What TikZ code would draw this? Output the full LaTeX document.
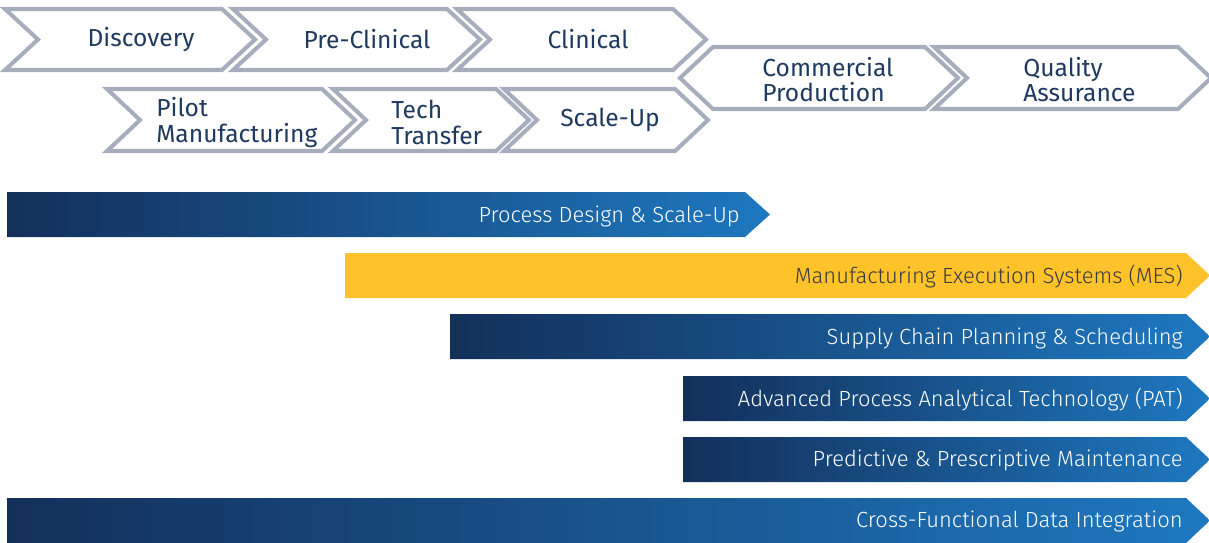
\documentclass[tikz,border=0pt]{standalone}
\usepackage{fontspec}
\setmainfont{Fira Sans}
\newfontfamily\barfont{Fira Sans Light}
\definecolor{phasegray}{HTML}{A6ADBD}
\definecolor{phasenavy}{HTML}{1E3A5F}
\definecolor{bardark}{HTML}{13305A}
\definecolor{barlight}{HTML}{1E78C0}
\definecolor{mesyellow}{HTML}{FEC22B}
\definecolor{mestext}{HTML}{3A3A3A}

\begin{document}
\begin{tikzpicture}[x=0.02cm,y=-0.02cm,
  phase/.style={draw=phasegray, line width=2.3pt, miter limit=20, fill=white},
  phasetext/.style={text=phasenavy, font=\fontsize{14}{14.4}\selectfont, align=left, inner sep=0pt},
  bartext/.style={text=white, font=\barfont\fontsize{12.5}{13}\selectfont, anchor=east, inner sep=0pt}]
\useasboundingbox (0,0) rectangle (1209,542);

% phases, first row
\draw[phase] (5,9) -- (222,9) -- ++(33,30.5) -- (222,70) -- (5,70) -- ++(33,-30.5) -- cycle;
\draw[phase] (233,9) -- (447,9) -- ++(33,30.5) -- (447,70) -- (233,70) -- ++(33,-30.5) -- cycle;
\draw[phase] (457,9) -- (673,9) -- ++(33,30.5) -- (673,70) -- (457,70) -- ++(33,-30.5) -- cycle;
% phases, second row
\draw[phase] (107,89) -- (322,89) -- ++(33,31) -- (322,151) -- (107,151) -- ++(33,-31) -- cycle;
\draw[phase] (333,89) -- (496,89) -- ++(33,31) -- (496,151) -- (333,151) -- ++(33,-31) -- cycle;
\draw[phase] (504,89) -- (675,89) -- ++(33,31) -- (675,151) -- (504,151) -- ++(33,-31) -- cycle;
% commercial and quality
\draw[phase] (713,47) -- (925,47) -- ++(33,31) -- (925,109) -- (713,109) -- ++(-33,-31) -- cycle;
\draw[phase] (934,47) -- (1178,47) -- ++(33,31) -- (1178,109) -- (934,109) -- ++(33,-31) -- cycle;

\node[phasetext] (discovery) at (141,39.5) {Discovery};
\node[phasetext] (preclinical) at (367,39.5) {Pre-Clinical};
\node[phasetext] (clinical) at (588,39.5) {Clinical};
\node[phasetext, anchor=west] (pilot) at (156,122.5) {Pilot\\Manufacturing};
\node[phasetext, anchor=west] (tech) at (391,122.5) {Tech\\Transfer};
\node[phasetext] (scaleup) at (610,120) {Scale-Up};
\node[phasetext, anchor=west] (commercial) at (762,79.5) {Commercial\\Production};
\node[phasetext, anchor=west] (quality) at (1023,79.5) {Quality\\Assurance};

% capability bars
\shade[left color=bardark, right color=barlight] (7,192) -- (745,192) -- ++(25,22.5) -- (745,237) -- (7,237) -- cycle;
\fill[mesyellow] (345,253) -- (1186,253) -- ++(24,22.5) -- (1186,298) -- (345,298) -- cycle;
\shade[left color=bardark, right color=barlight] (450,314) -- (1186,314) -- ++(24,22.5) -- (1186,359) -- (450,359) -- cycle;
\shade[left color=bardark, right color=barlight] (683,376) -- (1186,376) -- ++(24,22.5) -- (1186,421) -- (683,421) -- cycle;
\shade[left color=bardark, right color=barlight] (683,437) -- (1186,437) -- ++(24,22.5) -- (1186,482) -- (683,482) -- cycle;
\shade[left color=bardark, right color=barlight] (7,498) -- (1186,498) -- ++(24,22.5) -- (1186,543) -- (7,543) -- cycle;

\node[bartext] (design) at (740,216) {Process Design \& Scale-Up};
\node[bartext, text=mestext] (mes) at (1183,277) {Manufacturing Execution Systems (MES)};
\node[bartext] (supply) at (1183,338) {Supply Chain Planning \& Scheduling};
\node[bartext] (pat) at (1183,399.5) {Advanced Process Analytical Technology (PAT)};
\node[bartext] (maint) at (1183,460.5) {Predictive \& Prescriptive Maintenance};
\node[bartext] (data) at (1183,521.5) {Cross-Functional Data Integration};
\end{tikzpicture}
\end{document}
